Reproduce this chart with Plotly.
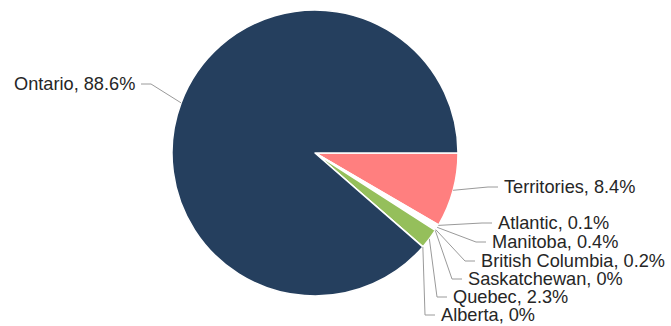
import math
import plotly.graph_objects as go

# Share of total by region (%), in drawing order, clockwise from 3 o'clock
regions = ["Territories", "Atlantic", "Manitoba", "British Columbia",
           "Saskatchewan", "Quebec", "Alberta", "Ontario"]
shares = [8.4, 0.1, 0.4, 0.2, 0, 2.3, 0, 88.6]
share_text = ["8.4%", "0.1%", "0.4%", "0.2%", "0%", "2.3%", "0%", "88.6%"]

colors = ["#ff7f7f", "#d6d0f2", "#ffffff", "#f3f3f3",
          "#ffffff", "#95bf5b", "#ffffff", "#253f5e"]

W, H = 671, 326
CX, CY, R = 315, 153, 143      # pie centre and radius, px
ROTATION = 90                  # first slice starts at 3 o'clock

# Label anchor (end of connector) for each region, px; side: +1 right, -1 left
label_anchor = {
    "Territories": (498, 187, 1),
    "Atlantic": (492, 223, 1),
    "Manitoba": (486, 242, 1),
    "British Columbia": (475, 261, 1),
    "Saskatchewan": (462, 279, 1),
    "Quebec": (447, 297, 1),
    "Alberta": (435, 315, 1),
    "Ontario": (141, 84, -1),
}
ELBOW = 10   # horizontal run of a connector, px
PAD = 5      # gap between connector and text, px


def px(x):
    return x / W


def py(y):
    return 1 - y / H


fig = go.Figure(go.Pie(
    labels=regions,
    values=shares,
    sort=False,
    direction="clockwise",
    rotation=ROTATION,
    marker=dict(colors=colors, line=dict(color="#ffffff", width=1.5)),
    textinfo="none",
    hoverinfo="label+percent",
    showlegend=False,
    domain=dict(x=[px(CX - R), px(CX + R)], y=[py(CY + R), py(CY - R)]),
))

total = sum(shares)
cum = 0.0
shapes, annotations = [], []
for name, val, txt in zip(regions, shares, share_text):
    mid = math.radians(ROTATION + 360 * (cum + val / 2) / total)
    cum += val
    tx, ty = CX + R * math.sin(mid), CY - R * math.cos(mid)
    lx, ly, side = label_anchor[name]
    bx = lx - side * ELBOW
    shapes.append(dict(
        type="path", xref="paper", yref="paper",
        path=f"M {px(tx)} {py(ty)} L {px(bx)} {py(ly)} L {px(lx)} {py(ly)}",
        line=dict(color="#9a9a9a", width=1),
    ))
    annotations.append(dict(
        x=px(lx + side * PAD), y=py(ly), xref="paper", yref="paper",
        text=f"{name}, {txt}", showarrow=False,
        xanchor="left" if side > 0 else "right", yanchor="middle",
        borderpad=0,
        font=dict(family="Liberation Sans, Arial, sans-serif", size=18.2, color="#262626"),
    ))

fig.update_layout(
    width=W, height=H,
    margin=dict(l=0, r=0, t=0, b=0),
    paper_bgcolor="#ffffff",
    plot_bgcolor="#ffffff",
    shapes=shapes,
    annotations=annotations,
)

fig.write_html("out.html")
